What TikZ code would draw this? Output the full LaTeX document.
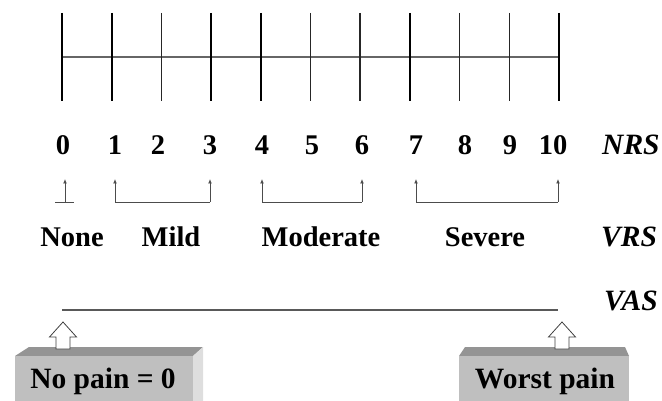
\documentclass[tikz,border=0pt]{standalone}
\usepackage{fontspec}
\setmainfont{Liberation Serif}
\usetikzlibrary{arrows.meta}
\begin{document}
\begin{tikzpicture}[x=1pt,y=-1pt,
  lbl/.style={font=\fontsize{28.5}{32}\selectfont\bfseries, anchor=base, inner sep=0pt},
  scalelbl/.style={font=\fontsize{29.5}{32}\selectfont\bfseries\itshape, anchor=base west, inner sep=0pt},
  boxlbl/.style={font=\fontsize{29.5}{32}\selectfont\bfseries, anchor=base, inner sep=0pt},
  tickthick/.style={line width=2.2pt, black},
  tickthin/.style={line width=1.5pt, black!85},
  smallarrow/.style={draw=black!70, line width=0.9pt, -{Latex[length=4.5pt,width=4pt]}},
  bracketline/.style={draw=black!70, line width=0.9pt},
  hollow/.style={draw=black!75, line width=0.8pt, fill=white},
  frontface/.style={fill=black!25, draw=none},
  topface/.style={fill=black!42, draw=none},
  sideface/.style={fill=black!13, draw=none}]
\useasboundingbox (0,0) rectangle (662,401);

% ruler
\coordinate (rl) at (62,57);
\coordinate (rr) at (559,57);
\draw[line width=2.6pt, black!60] (rl) -- (rr);
\foreach \k/\s in {0/tickthick,1/tickthick,2/tickthin,3/tickthick,4/tickthick,5/tickthin,6/tickthin,7/tickthick,8/tickthin,9/tickthin,10/tickthick}{
  \coordinate (tt\k) at ({62+49.7*\k},13);
  \coordinate (tb\k) at ({62+49.7*\k},101);
  \draw[\s] (tt\k) -- (tb\k);
}

% numbers
\foreach \k/\x in {0/63,1/115,2/158,3/210,4/262,5/312,6/362,7/416,8/465,9/510,10/553}{
  \node[lbl] (n\k) at (\x,155) {\k};
}
\node[scalelbl] (nrs) at (602,155) {NRS};

% small arrows and brackets
\coordinate (a0t) at (65,179);  \coordinate (a0b) at (65,202);
\coordinate (z0l) at (55,202);  \coordinate (z0r) at (74,202);
\draw[bracketline] (z0l) -- (z0r);
\draw[smallarrow] (a0b) -- (a0t);

\foreach \name/\xa/\xb in {mild/115/210,mod/262/362,sev/416/558}{
  \coordinate (\name la) at (\xa,179);
  \coordinate (\name lb) at (\xa,202);
  \coordinate (\name ra) at (\xb,179);
  \coordinate (\name rb) at (\xb,202);
  \draw[bracketline] (\name lb) -- (\name rb);
  \draw[smallarrow] (\name lb) -- (\name la);
  \draw[smallarrow] (\name rb) -- (\name ra);
}

% VRS labels
\node[lbl] (none) at (72,247) {None};
\node[lbl] (mild) at (171,247) {Mild};
\node[lbl] (moderate) at (321,247) {Moderate};
\node[lbl] (severe) at (485,247) {Severe};
\node[scalelbl] (vrs) at (601,247) {VRS};

% VAS
\coordinate (vl) at (62,310);
\coordinate (vr) at (558,310);
\draw[line width=1.3pt, black!65] (vl) -- (vr);
\node[scalelbl] (vas) at (604,310) {VAS};

% left box
\fill[topface] (15,356) -- (193,356) -- (203,347) -- (29,347) -- cycle;
\fill[sideface] (193,356) -- (203,347) -- (203,401) -- (193,401) -- cycle;
\fill[frontface] (15,356) rectangle (193,401);
\node[boxlbl] (nopain) at (103,388) {No pain = 0};

% right box
\fill[topface] (459,356) -- (629,356) -- (625,347) -- (465,347) -- cycle;
\fill[frontface] (459,356) rectangle (629,401);
\node[boxlbl] (worst) at (545,388) {Worst pain};

% hollow arrows
\draw[hollow] (63,322) -- (76.5,337) -- (70,337) -- (70,349) -- (56,349) -- (56,337) -- (49.5,337) -- cycle;
\draw[hollow] (562,322) -- (575.5,337) -- (569,337) -- (569,349) -- (555,349) -- (555,337) -- (548.5,337) -- cycle;
\end{tikzpicture}
\end{document}
